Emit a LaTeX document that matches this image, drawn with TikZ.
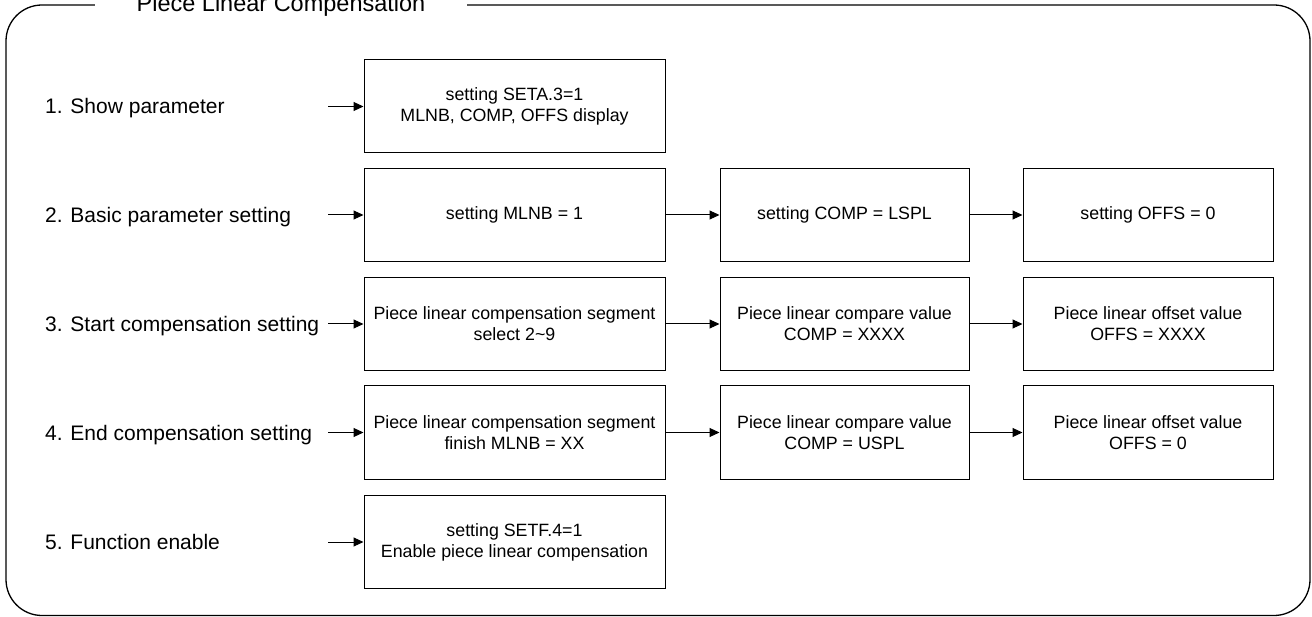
\documentclass[tikz,border=0pt]{standalone}
\usepackage{fontspec}
\setmainfont{Liberation Sans}
\usetikzlibrary{arrows.meta}
\tikzset{
  stepbox/.style={draw, line width=1pt, inner sep=0pt, align=center,
    font=\fontsize{17.8}{21}\selectfont, minimum height=93pt},
  colA/.style={stepbox, minimum width=301pt},
  colB/.style={stepbox, minimum width=249pt},
  colC/.style={stepbox, minimum width=250pt},
  rowlabel/.style={anchor=base west, inner sep=0pt, font=\fontsize{21}{25}\selectfont},
  conn/.style={line width=1pt, -{Triangle[length=10pt,width=9pt]}},
}
\begin{document}
\begin{tikzpicture}[x=1pt, y=-1pt]
\useasboundingbox (0,0) rectangle (1312,617);
% frame
\draw[line width=1.3pt, rounded corners=36pt] (6,5) rectangle (1310,615.5);
\node[anchor=base, fill=white, inner xsep=0pt, inner ysep=3pt, minimum width=372pt,
  font=\fontsize{23.5}{28}\selectfont] (title) at (281,12) {Piece Linear Compensation};

% row 1
\node[colA] (a1) at (514.5,106.5) {setting SETA.3=1\\MLNB, COMP, OFFS display};
\node[rowlabel] (l1) at (45,114) {1. Show parameter};
\coordinate (s1) at (328,106.5);
\draw[conn] (s1) -- (a1.west);

% row 2
\node[colA] (a2) at (514.5,215) {setting MLNB = 1};
\node[colB] (b2) at (844.5,215) {setting COMP = LSPL};
\node[colC] (c2) at (1148,215) {setting OFFS = 0};
\node[rowlabel] (l2) at (45,222.5) {2. Basic parameter setting};
\coordinate (s2) at (328,215);
\draw[conn] (s2) -- (a2.west);
\draw[conn] (a2) -- (b2);
\draw[conn] (b2) -- (c2);

% row 3
\node[colA] (a3) at (514.5,324) {Piece linear compensation segment\\select 2\textasciitilde 9};
\node[colB] (b3) at (844.5,324) {Piece linear compare value\\COMP = XXXX};
\node[colC] (c3) at (1148,324) {Piece linear offset value\\OFFS = XXXX};
\node[rowlabel] (l3) at (45,331.5) {3. Start compensation setting};
\coordinate (s3) at (328,324);
\draw[conn] (s3) -- (a3.west);
\draw[conn] (a3) -- (b3);
\draw[conn] (b3) -- (c3);

% row 4
\node[colA] (a4) at (514.5,432.5) {Piece linear compensation segment\\finish MLNB = XX};
\node[colB] (b4) at (844.5,432.5) {Piece linear compare value\\COMP = USPL};
\node[colC] (c4) at (1148,432.5) {Piece linear offset value\\OFFS = 0};
\node[rowlabel] (l4) at (45,440) {4. End compensation setting};
\coordinate (s4) at (328,432.5);
\draw[conn] (s4) -- (a4.west);
\draw[conn] (a4) -- (b4);
\draw[conn] (b4) -- (c4);

% row 5
\node[colA] (a5) at (514.5,542) {setting SETF.4=1\\Enable piece linear compensation};
\node[rowlabel] (l5) at (45,549.5) {5. Function enable};
\coordinate (s5) at (328,542);
\draw[conn] (s5) -- (a5.west);
\end{tikzpicture}
\end{document}
